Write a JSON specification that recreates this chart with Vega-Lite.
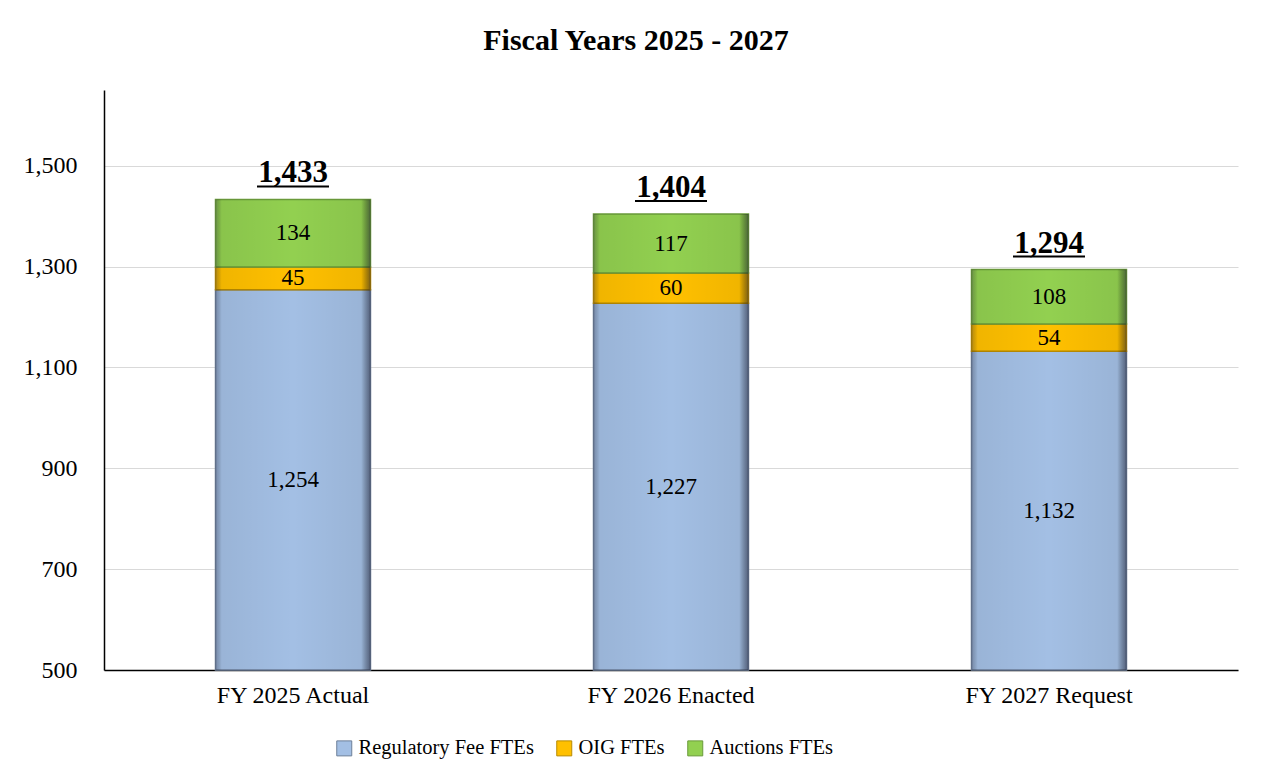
{
  "$schema": "https://vega.github.io/schema/vega-lite/v6.json",
  "width": 1134,
  "height": 580,
  "autosize": {"type": "none"},
  "padding": {"left": 104, "top": 90, "right": 26, "bottom": 113},
  "background": "white",
  "title": {"text": "Fiscal Years 2025 - 2027", "font": "Liberation Serif", "fontSize": 30, "fontWeight": "bold", "anchor": "middle", "dx": -35, "offset": 10, "baseline": "alphabetic", "color": "black"},
  "data": {"values": [
    {"category": "FY 2025 Actual", "series": "Regulatory Fee FTEs", "value": 1254},
    {"category": "FY 2025 Actual", "series": "OIG FTEs", "value": 45},
    {"category": "FY 2025 Actual", "series": "Auctions FTEs", "value": 134},
    {"category": "FY 2026 Enacted", "series": "Regulatory Fee FTEs", "value": 1227},
    {"category": "FY 2026 Enacted", "series": "OIG FTEs", "value": 60},
    {"category": "FY 2026 Enacted", "series": "Auctions FTEs", "value": 117},
    {"category": "FY 2027 Request", "series": "Regulatory Fee FTEs", "value": 1132},
    {"category": "FY 2027 Request", "series": "OIG FTEs", "value": 54},
    {"category": "FY 2027 Request", "series": "Auctions FTEs", "value": 108}
  ]},
  "config": {
    "font": "Liberation Serif",
    "view": {"stroke": null},
    "axis": {"labelFont": "Liberation Serif", "labelFontSize": 24, "labelColor": "black"},
    "legend": {"labelFont": "Liberation Serif", "labelFontSize": 20.5, "labelColor": "black", "labelLimit": 0}
  },
  "layer": [
    {
      "mark": {"type": "bar", "strokeWidth": 1.5},
      "encoding": {
        "x": {"field": "category", "type": "nominal", "sort": null, "scale": {"paddingInner": 0.59, "paddingOuter": 0.295}, "axis": {"title": null, "labelAngle": 0, "ticks": false, "domainColor": "black", "domainWidth": 1.5, "labelPadding": 13}},
        "y": {"field": "value", "type": "quantitative", "stack": "zero", "scale": {"domain": [500, 1650], "nice": false, "zero": false, "clamp": true}, "axis": {"title": null, "values": [500, 700, 900, 1100, 1300, 1500], "format": ",d", "ticks": false, "domainColor": "black", "domainWidth": 1.5, "gridColor": "#d9d9d9", "labelPadding": 27}},
        "color": {"field": "series", "type": "nominal", "scale": {"domain": ["Regulatory Fee FTEs", "OIG FTEs", "Auctions FTEs"], "range": ["#a3bfe4", "#ffc000", "#92d050"]},
          "legend": {"orient": "none", "legendX": 230, "legendY": 648, "direction": "horizontal", "title": null, "labelFont": "Liberation Serif", "labelFontSize": 20.5, "symbolType": "square", "symbolSize": 225, "symbolStrokeWidth": 1, "symbolStrokeColor": "#666666", "columnPadding": 20, "labelOffset": 4, "padding": 0}},
        "stroke": {"field": "series", "type": "nominal", "scale": {"domain": ["Regulatory Fee FTEs", "OIG FTEs", "Auctions FTEs"], "range": ["#6d7f99", "#b88a00", "#6a9a3a"]}, "legend": null},
        "order": {"field": "series", "sort": "descending"}
      }
    },
    {
      "mark": {"type": "bar", "fill": {"gradient": "linear", "x1": 0, "y1": 0, "x2": 1, "y2": 0, "stops": [
        {"offset": 0, "color": "rgba(40,40,60,0.35)"},
        {"offset": 0.04, "color": "rgba(0,0,0,0.06)"},
        {"offset": 0.5, "color": "rgba(0,0,0,0)"},
        {"offset": 0.94, "color": "rgba(0,0,0,0.06)"},
        {"offset": 1, "color": "rgba(20,20,40,0.55)"}
      ]}},
      "encoding": {
        "x": {"field": "category", "type": "nominal", "sort": null},
        "y": {"field": "value", "type": "quantitative", "stack": "zero"},
        "detail": {"field": "series"},
        "order": {"field": "series", "sort": "descending"}
      }
    },
    {
      "transform": [
        {"stack": "value", "groupby": ["category"], "sort": [{"field": "series", "order": "descending"}], "as": ["v0", "v1"]},
        {"calculate": "(max(datum.v0, 500) + datum.v1) / 2", "as": "labelPos"}
      ],
      "mark": {"type": "text", "font": "Liberation Serif", "fontSize": 23, "color": "black"},
      "encoding": {
        "x": {"field": "category", "type": "nominal", "sort": null},
        "y": {"field": "labelPos", "type": "quantitative"},
        "text": {"field": "value", "format": ",d"}
      }
    },
    {
      "transform": [{"aggregate": [{"op": "sum", "field": "value", "as": "total"}], "groupby": ["category"]}],
      "mark": {"type": "text", "font": "Liberation Serif", "fontWeight": "bold", "fontSize": 31, "dy": -17, "baseline": "alphabetic", "color": "black"},
      "encoding": {
        "x": {"field": "category", "type": "nominal", "sort": null},
        "y": {"field": "total", "type": "quantitative"},
        "text": {"field": "total", "format": ",d"}
      }
    },
    {
      "transform": [{"aggregate": [{"op": "sum", "field": "value", "as": "total"}], "groupby": ["category"]}],
      "mark": {"type": "tick", "orient": "horizontal", "size": 72, "thickness": 2, "yOffset": -13, "color": "black", "opacity": 1},
      "encoding": {
        "x": {"field": "category", "type": "nominal", "sort": null},
        "y": {"field": "total", "type": "quantitative"}
      }
    }
  ]
}
